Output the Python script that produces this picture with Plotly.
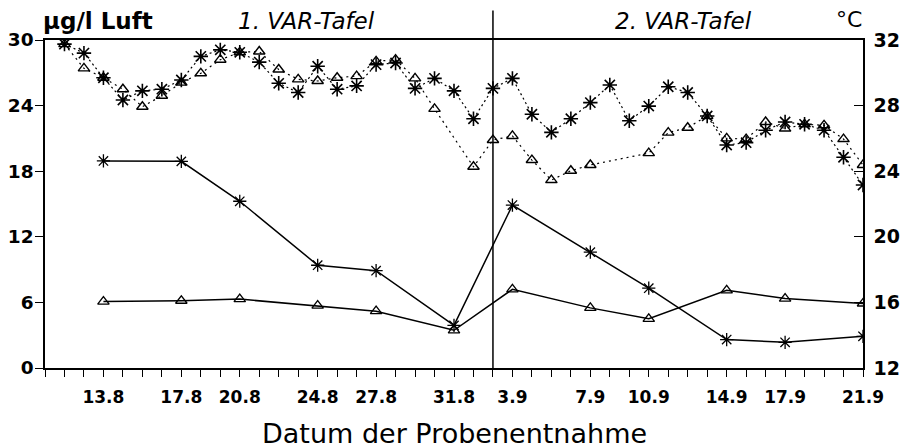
import plotly.graph_objects as go
import pandas as pd

# ---- data ----
# Temperature (°C, right axis), daily readings
temp_star_dates = pd.date_range("1988-08-11", "1988-09-21", freq="D").strftime("%Y-%m-%d").tolist()
temp_star_vals = [31.75, 31.2, 29.7, 28.34, 28.9, 29.0, 29.56, 31.0, 31.4, 31.25,
                  30.65, 29.36, 28.8, 30.4, 29.0, 29.2, 30.5, 30.6, 29.05, 29.66,
                  28.9, 27.2, 29.05, 29.66, 27.47, 26.37, 27.2, 28.18, 29.26, 27.08,
                  27.97, 29.15, 28.8, 27.37, 25.6, 25.74, 26.5, 27.0, 26.86, 26.5,
                  24.85, 23.16]

temp_tri_dates = (pd.date_range("1988-08-11", "1988-08-30", freq="D").strftime("%Y-%m-%d").tolist()
                  + pd.date_range("1988-09-01", "1988-09-07", freq="D").strftime("%Y-%m-%d").tolist()
                  + pd.date_range("1988-09-10", "1988-09-21", freq="D").strftime("%Y-%m-%d").tolist())
temp_tri_vals = [31.75, 30.27, 29.7, 29.0, 27.93, 28.6, 29.4, 29.97, 30.8, 31.25,
                 31.3, 30.2, 29.6, 29.5, 29.7, 29.8, 30.7, 30.8, 29.66, 27.8,
                 24.27, 25.9, 26.15, 24.68, 23.46, 24.03, 24.38,
                 25.1, 26.35, 26.65, 27.37, 26.0, 25.96, 27.0, 26.6, 26.86, 26.8,
                 25.96, 24.38]

# Concentration (µg/l Luft, left axis), sampling dates
sample_dates = ["1988-08-13", "1988-08-17", "1988-08-20", "1988-08-24", "1988-08-27", "1988-08-31",
                "1988-09-03", "1988-09-07", "1988-09-10", "1988-09-14", "1988-09-17", "1988-09-21"]
conc_star = [18.94, 18.9, 15.25, 9.4, 8.9, 3.9, 14.9, 10.6, 7.3, 2.6, 2.35, 2.9]
conc_tri = [6.08, 6.15, 6.3, 5.7, 5.2, 3.45, 7.2, 5.5, 4.5, 7.1, 6.35, 5.9]

tick_labels = {"1988-08-13": "13.8", "1988-08-17": "17.8", "1988-08-20": "20.8",
               "1988-08-24": "24.8", "1988-08-27": "27.8", "1988-08-31": "31.8",
               "1988-09-03": "3.9", "1988-09-07": "7.9", "1988-09-10": "10.9",
               "1988-09-14": "14.9", "1988-09-17": "17.9", "1988-09-21": "21.9"}
all_days = pd.date_range("1988-08-10", "1988-09-21", freq="D").strftime("%Y-%m-%d").tolist()
divider_date = "1988-09-02"

FONT = "DejaVu Sans"

fig = go.Figure()

fig.add_trace(go.Scatter(
    x=temp_tri_dates, y=temp_tri_vals, yaxis="y2", mode="lines+markers",
    line=dict(color="black", width=1.2, dash="2px,4px"),
    marker=dict(symbol="triangle-up-open", size=10, color="black", line=dict(width=1.4, color="black")),
    showlegend=False))
fig.add_trace(go.Scatter(
    x=temp_star_dates, y=temp_star_vals, yaxis="y2", mode="lines+markers",
    line=dict(color="black", width=1.2, dash="2px,3px"),
    marker=dict(symbol="asterisk-open", size=12, color="black", line=dict(width=1.6, color="black")),
    showlegend=False))
fig.add_trace(go.Scatter(
    x=sample_dates, y=conc_star, mode="lines+markers",
    line=dict(color="black", width=1.5),
    marker=dict(symbol="asterisk-open", size=11, color="black", line=dict(width=1.3, color="black")),
    showlegend=False))
fig.add_trace(go.Scatter(
    x=sample_dates, y=conc_tri, mode="lines+markers",
    line=dict(color="black", width=1.5),
    marker=dict(symbol="triangle-up-open", size=10, color="black", line=dict(width=1.3, color="black")),
    showlegend=False))

fig.add_shape(type="line", xref="x", yref="paper", x0=divider_date, x1=divider_date,
              y0=0, y1=1.09, line=dict(color="black", width=1.5))

# the page body has an 8px margin, so the figure is 8px smaller and margins compensate
fig.update_layout(
    width=900, height=440,
    margin=dict(l=37, r=45, t=32, b=80, autoexpand=False),
    paper_bgcolor="white", plot_bgcolor="white",
    font=dict(family=FONT, color="black"),
    xaxis=dict(
        type="date", range=["1988-08-10", "1988-09-21"], automargin=False,
        tickvals=all_days, ticktext=[tick_labels.get(d, "") for d in all_days],
        ticks="outside", ticklen=7, tickwidth=1, tickcolor="black",
        showline=True, linecolor="black", linewidth=1.5, mirror=True,
        showgrid=False, zeroline=False,
        tickfont=dict(family=FONT, size=17, weight="bold"), ticklabelstandoff=6),
    yaxis=dict(
        range=[0, 30], tickvals=[0, 6, 12, 18, 24, 30], automargin=False,
        ticks="outside", ticklen=8, tickwidth=1, tickcolor="black",
        showline=True, linecolor="black", linewidth=1.5,
        showgrid=False, zeroline=False,
        tickfont=dict(family=FONT, size=18.5, weight="bold"), ticklabelstandoff=-2),
    yaxis2=dict(
        range=[12, 32], tickvals=[12, 16, 20, 24, 28, 32], overlaying="y", side="right",
        automargin=False,
        ticks="inside", ticklen=9, tickwidth=1, tickcolor="black",
        showline=True, linecolor="black", linewidth=1.5,
        showgrid=False, zeroline=False,
        tickfont=dict(family=FONT, size=19, weight="bold"), ticklabelstandoff=5),
)

def ann(text, x, y, size, xanchor="center", italic=False, bold=False):
    t = text
    if bold:
        t = "<b>" + t + "</b>"
    if italic:
        t = "<i>" + t + "</i>"
    fig.add_annotation(text=t, xref="paper", yref="paper", x=x, y=y,
                       xanchor=xanchor, yanchor="middle", showarrow=False,
                       font=dict(family=FONT, size=size, color="black"))

ann("µg/l Luft", -0.005, 1.058, 23, xanchor="left", bold=True)
ann("1. VAR-Tafel", 0.32, 1.058, 23, italic=True)
ann("2. VAR-Tafel", 0.781, 1.058, 23, italic=True)
ann("°C", 0.983, 1.062, 22)
ann("Datum der Probenentnahme", 0.5, -0.2, 27)

fig.write_html("out.html")
